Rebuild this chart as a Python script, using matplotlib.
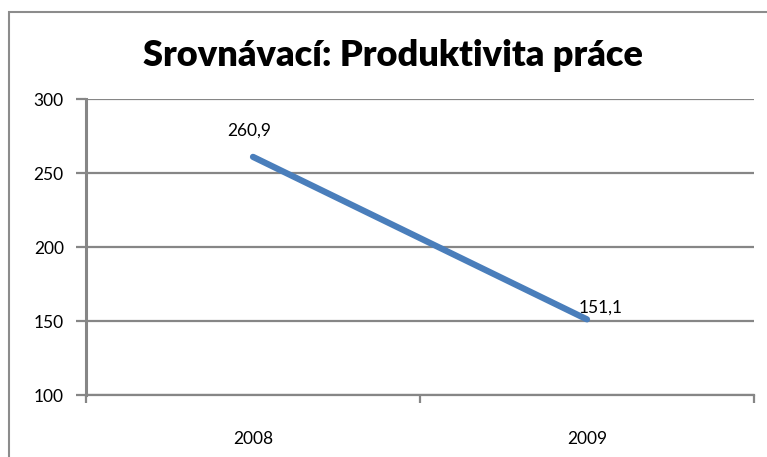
import matplotlib
matplotlib.use("Agg")
import matplotlib.pyplot as plt
from matplotlib.patches import Rectangle

years = ["2008", "2009"]
values = [260.9, 151.1]
labels = ["260,9", "151,1"]
yticks = [100, 150, 200, 250, 300]

W, H = 767, 457
fig = plt.figure(figsize=(W/100, H/100), dpi=100)
plt.rcParams['font.family'] = ['Lato', 'DejaVu Sans']

# chart border
fig.patches.append(Rectangle((9/W, -0.1), 1.2, 1.1 - 12/H, transform=fig.transFigure,
                             fill=False, edgecolor='#8c8c8c', linewidth=1.5))

ax = fig.add_axes([86/W, 1 - 395/H, (754-86)/W, (395-99)/H])
x = list(range(len(years)))
ax.plot(x, values, color='#4A7EBB', linewidth=4.5, solid_capstyle='round', zorder=3)
ax.set_xlim(-0.5, len(years) - 0.5)
ax.set_ylim(100, 300)
ax.set_yticks(yticks)
ax.set_yticklabels([str(v) for v in yticks])
ax.yaxis.grid(True, color='#868686', linewidth=1.6)
ax.set_axisbelow(True)

ax.set_xticks([i - 0.5 for i in range(len(years) + 1)])
ax.set_xticklabels([])
ax.set_xticks(x, minor=True)
ax.set_xticklabels(years, minor=True)
ax.tick_params(axis='x', which='major', length=6, width=1.6, color='#868686', direction='out')
ax.tick_params(axis='x', which='minor', length=0, pad=26, labelsize=12.5)
ax.tick_params(axis='y', length=7, width=1.6, color='#868686', pad=9, labelsize=12.5)

for s in ['top', 'right']:
    ax.spines[s].set_visible(False)
ax.spines['left'].set_color('#868686')
ax.spines['left'].set_linewidth(2.2)
ax.spines['bottom'].set_color('#868686')
ax.spines['bottom'].set_linewidth(1.6)

offsets = [(-3, 13), (10, 3)]
for xi, v, lab, off in zip(x, values, labels, offsets):
    ax.annotate(lab, (xi, v), xytext=off, textcoords='offset points',
                ha='center', va='bottom', fontsize=12.5, color='black')

fig.text(393/W, 1 - 55/H, "Srovnávací: Produktivita práce", ha='center', va='center',
         fontsize=26, fontweight='heavy', color='black')

fig.savefig("out.png", dpi=100)
